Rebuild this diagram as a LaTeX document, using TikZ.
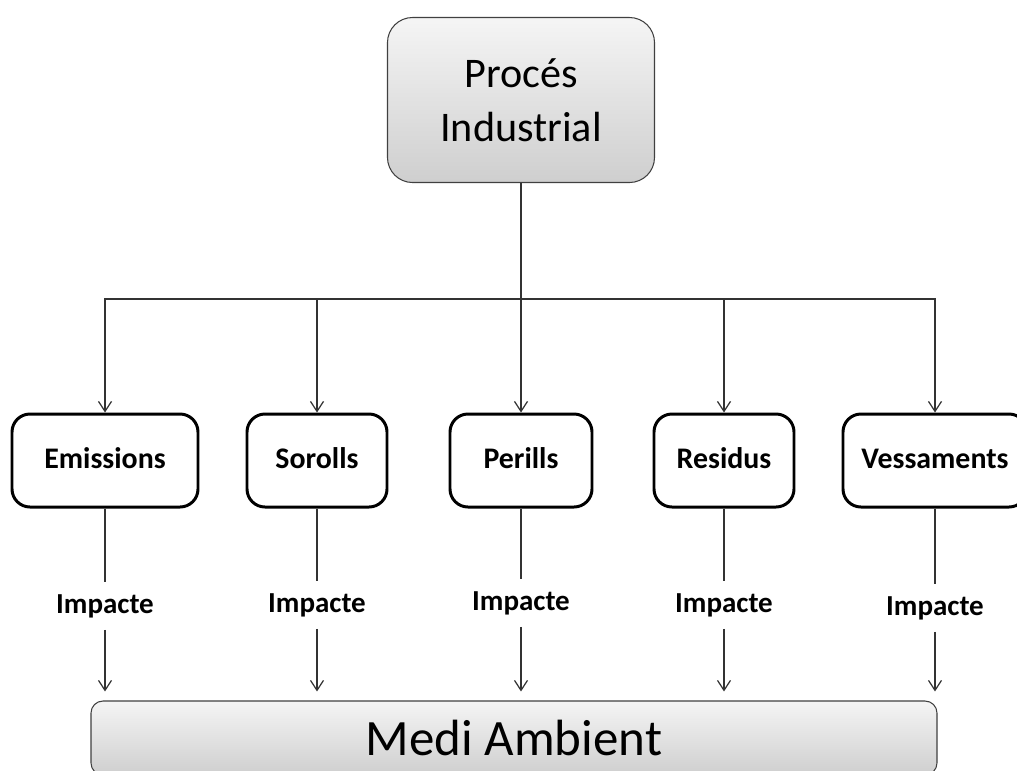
\documentclass[tikz,border=0pt]{standalone}
\usepackage{fontspec}
\setmainfont{Carlito}
\usetikzlibrary{arrows.meta, positioning, calc}

\begin{document}
\begin{tikzpicture}[
        big/.style={rectangle, draw=black!75, line width=0.6pt, top color=gray!8, bottom color=gray!38, align=center},
        impact/.style={rectangle, draw=black, line width=1.7pt, rounded corners=0.36cm, minimum height=1.86cm,
                       text height=0.86em, text depth=0pt, font=\fontsize{17}{20}\selectfont\bfseries},
        label/.style={anchor=base, fill=white, inner xsep=2pt, inner ysep=0.24cm, font=\fontsize{16.5}{19}\selectfont\bfseries},
        conn/.style={draw=black!80, line width=0.7pt},
        arrow/.style={conn, -{Straight Barb[length=0.2cm, width=0.26cm, line width=0.7pt]}}
    ]
    \useasboundingbox (0,0) rectangle (20.34,-15.40);
    \clip (0,0) rectangle (20.34,-15.40);

    % Top: industrial process
    \node[big, rounded corners=0.5cm, minimum width=5.34cm, minimum height=3.30cm,
          font=\fontsize{24}{31}\selectfont] (proces) at (10.42,-2.00) {Procés\\Industrial};

    % Branch point
    \coordinate (bus) at (10.42,-5.98);

    % Outputs of the process
    \node[impact, minimum width=3.72cm] (emis) at (2.10,-9.21) {Emissions};
    \node[impact, minimum width=2.80cm] (soro) at (6.34,-9.21) {Sorolls};
    \node[impact, minimum width=2.84cm] (peri) at (10.42,-9.21) {Perills};
    \node[impact, minimum width=2.80cm] (resi) at (14.48,-9.21) {Residus};
    \node[impact, minimum width=3.68cm] (vess) at (18.70,-9.21) {Vessaments};

    % Environment
    \node[big, rounded corners=0.24cm, minimum width=16.92cm, minimum height=1.48cm,
          font=\fontsize{29}{35}\selectfont] (medi) at (10.28,-14.76) {Medi Ambient};

    % Impact labels
    \node[label] (imp1) at (2.10,-12.26) {Impacte};
    \node[label] (imp2) at (6.34,-12.24) {Impacte};
    \node[label] (imp3) at (10.42,-12.20) {Impacte};
    \node[label] (imp4) at (14.48,-12.24) {Impacte};
    \node[label] (imp5) at (18.70,-12.30) {Impacte};

    % Arrows
    \draw[conn] (proces) -- (bus);
    \foreach \n in {emis,soro,peri,resi,vess}
        \draw[arrow] (bus) -| (\n.north);
    \foreach \n/\m in {emis/imp1,soro/imp2,peri/imp3,resi/imp4,vess/imp5} {
        \draw[conn] (\n) -- (\m);
        \draw[arrow, shorten >=0.18cm] (\m) -- (\m |- medi.north);
    }

\end{tikzpicture}
\end{document}
